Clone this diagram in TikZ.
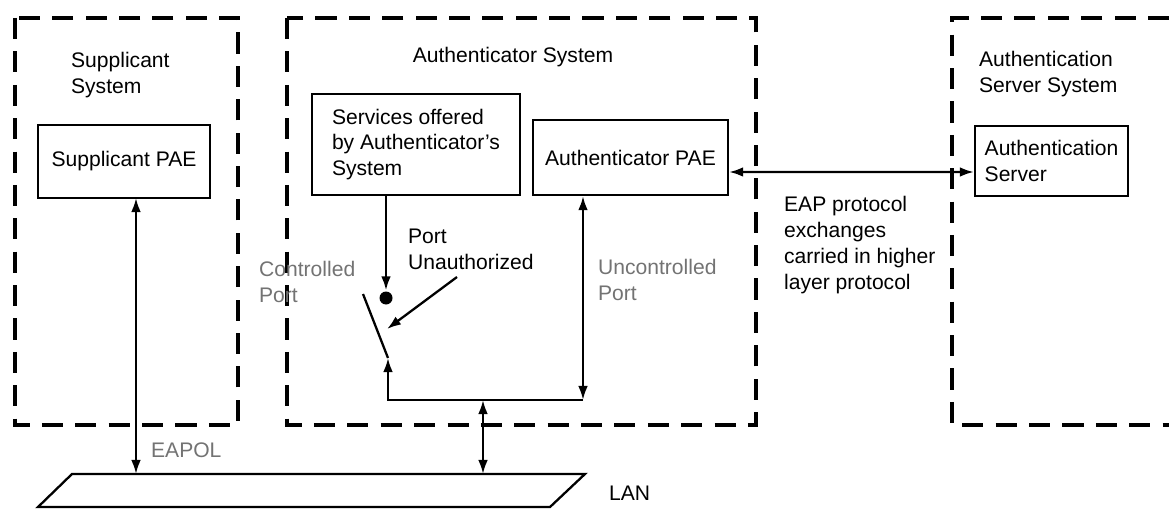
\documentclass[tikz,border=0pt]{standalone}
\usepackage{fontspec}
\setmainfont{Liberation Sans}
\usetikzlibrary{arrows.meta}

\begin{document}
\begin{tikzpicture}[x=0.02cm, y=-0.02cm, line width=1.3pt, >={Latex[length=8pt,width=5.5pt]}]
    \tikzstyle{every node}=[font=\fontsize{12}{14.75}\selectfont]
    \tikzstyle{system}=[dash pattern=on 12pt off 7pt, line width=1.8pt]
    \tikzstyle{block}=[draw, rectangle, inner sep=0pt, align=left]
    \tikzstyle{annot}=[anchor=north west, inner sep=0pt, align=left]
    \tikzstyle{faint}=[annot, text=black!55]
    \tikzstyle{link}=[<->]

    \useasboundingbox (0,0) rectangle (1169,510);

    % Draw the dashed system borders
    \draw[system] (15,18) rectangle (238,425);
    \draw[system] (287,18) rectangle (756,425);
    \draw[system] (1169,18) -| (952,425) -- (1169,425);

    \node[annot] at (70,51) {Supplicant\\System};
    \node at (513,57) {Authenticator System};
    \node[annot] at (978,50) {Authentication\\Server System};

    % Draw the blocks
    \node[block, minimum width=3.44cm, minimum height=1.46cm] (SPAE) at (124,161.5) {Supplicant PAE};
    \node[block, minimum width=4.16cm, minimum height=2.02cm] (SVC) at (416,144.5) {Services offered\\by Authenticator's\\System};
    \node[block, minimum width=3.9cm, minimum height=1.5cm] (APAE) at (630.5,157.5) {Authenticator PAE};
    \node[block, minimum width=3.06cm, minimum height=1.4cm] (AS) at (1051.5,161) {Authentication\\Server};

    % The switch of the controlled port
    \node[circle, fill, inner sep=0pt, minimum size=0.26cm] (ball) at (386,298) {};
    \coordinate (sw-top) at (363,294);
    \coordinate (sw-bot) at (388,358);
    \coordinate (bus-l) at (388,400);
    \coordinate (bus-m) at (483,400);
    \coordinate (bus-r) at (583,400);
    \coordinate (pu-tail) at (457,277);
    \coordinate (pu-head) at (387,329);
    \coordinate (eapol) at (136,198);

    % LAN segment
    \coordinate (lan-bl) at (38,507);
    \coordinate (lan-tl) at (72,474);
    \coordinate (lan-tr) at (585,474);
    \coordinate (lan-br) at (550,507);
    \draw (lan-bl) -- (lan-tl) -- (lan-tr) -- (lan-br) -- cycle;

    % Annotate the ports
    \node[annot] (PU) at (407,228) {Port\\Unauthorized};
    \node[faint] (CP) at (258,260) {Controlled\\Port};
    \node[faint] (UP) at (597,258) {Uncontrolled\\Port};
    \node[annot] (EAP) at (783,195) {EAP protocol\\exchanges\\carried in higher\\layer protocol};
    \node[faint, anchor=west] at (150,450) {EAPOL};
    \node[annot, anchor=west] at (608,493) {LAN};

    % Connect the blocks
    \draw[->] (SVC.south -| ball) -- (ball.north);
    \draw (sw-top) -- (sw-bot);
    \draw[->] (bus-r) -- (bus-l) -- (sw-bot);
    \draw[->] (pu-tail) -- (pu-head);
    \draw[link] (APAE.south -| bus-r) -- (bus-r);
    \draw[link] (bus-m) -- (bus-m |- lan-tl);
    \draw[link] (eapol) -- (eapol |- lan-tl);
    \draw[link] ([yshift=-0.29cm]APAE.east) -- ([yshift=-0.22cm]AS.west);
\end{tikzpicture}
\end{document}
